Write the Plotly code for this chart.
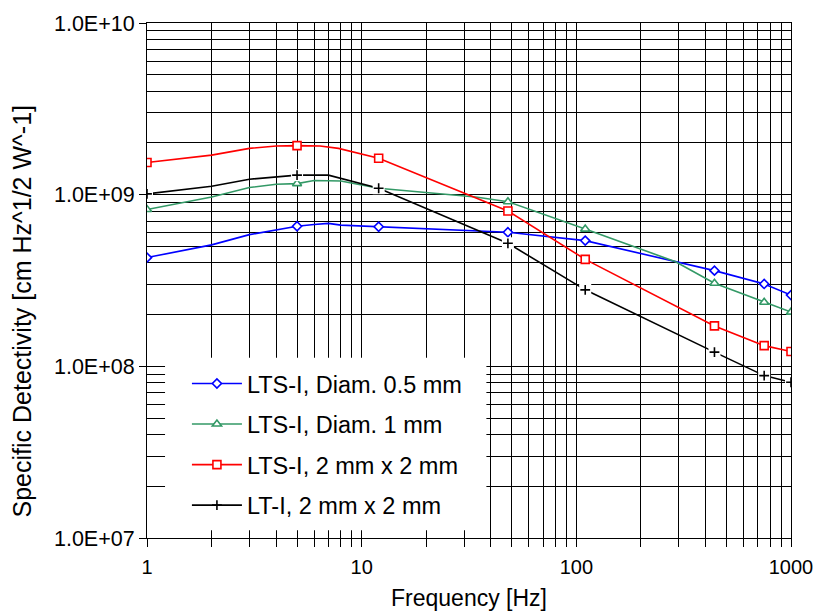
import plotly.graph_objects as go

# Specific detectivity D* vs. chopper frequency for four detectors
FREQ_LTS05 = [1, 2, 3, 5, 6, 7, 8, 12, 24, 48, 110, 440, 750, 1000]
D_LTS05 = [4.3e8, 5.1e8, 5.85e8, 6.55e8, 6.7e8, 6.8e8, 6.65e8, 6.5e8, 6.3e8,
           6.04e8, 5.4e8, 3.61e8, 3.02e8, 2.6e8]

FREQ_LTS1 = [1, 2, 3, 4, 5, 6, 8, 12, 34, 48, 110, 290, 440, 750, 1000]
D_LTS1 = [8.2e8, 9.7e8, 1.1e9, 1.15e9, 1.16e9, 1.21e9, 1.2e9, 1.09e9, 9.7e8,
          9.1e8, 6.3e8, 4.07e8, 3.05e8, 2.36e8, 2.07e8]

FREQ_LTS2 = [1, 2, 3, 4, 5, 6.4, 7.8, 12, 48, 110, 440, 750, 1000]
D_LTS2 = [1.54e9, 1.70e9, 1.86e9, 1.92e9, 1.93e9, 1.92e9, 1.86e9, 1.63e9,
          8.04e8, 4.2e8, 1.72e8, 1.32e8, 1.22e8]

FREQ_LT2 = [1, 2, 3, 4, 5, 7, 12, 48, 110, 440, 750, 1000]
D_LT2 = [1.01e9, 1.12e9, 1.23e9, 1.27e9, 1.30e9, 1.30e9, 1.09e9, 5.21e8,
         2.79e8, 1.21e8, 8.83e7, 8.08e7]

# frequencies at which a symbol is shown on each curve
MARKED_FREQ = [1, 5, 12, 48, 110, 440, 750, 1000]

NAMES = ["LTS-I, Diam. 0.5 mm", "LTS-I, Diam. 1 mm",
         "LTS-I, 2 mm x 2 mm", "LT-I, 2 mm x 2 mm"]
COLORS = ["#0000FF", "#339966", "#FF0000", "#000000"]
SYMBOLS = ["diamond", "triangle-up", "square", "cross-thin"]
SIZES = [7, 8, 8, 7]

Y_TICKS = [1e7, 1e8, 1e9, 1e10]
Y_TICKTEXT = ["1.0E+07", "1.0E+08", "1.0E+09", "1.0E+10"]
X_TICKS = [1, 10, 100, 1000]
X_TICKTEXT = ["1", "10", "100", "1000"]
Y_TITLE = "Specific Detectivity [cm Hz^1/2 W^-1]"
X_TITLE = "Frequency [Hz]"

CLEAR = "rgba(0,0,0,0)"
FONT = "Liberation Sans, Arial, sans-serif"

series = [(FREQ_LTS05, D_LTS05), (FREQ_LTS1, D_LTS1),
          (FREQ_LTS2, D_LTS2), (FREQ_LT2, D_LT2)]

fig = go.Figure()

for i, (f, d) in enumerate(series):
    shown = [x in MARKED_FREQ for x in f]
    col = COLORS[i]
    is_cross = SYMBOLS[i] == "cross-thin"
    fill = [("white" if not is_cross else col) if s else CLEAR for s in shown]
    edge = [col if s else CLEAR for s in shown]
    fig.add_trace(go.Scatter(
        x=f, y=d, name=NAMES[i], mode="lines+markers",
        legendgroup=NAMES[i],
        line=dict(color=col, width=1.6),
        marker=dict(symbol=SYMBOLS[i], size=SIZES[i], color=fill,
                    line=dict(color=edge, width=1.6)),
    ))

# the "+" symbols of the last curve sit on a small white patch
f_lt, d_lt = FREQ_LT2, D_LT2
mk_f = [x for x in f_lt if x in MARKED_FREQ]
mk_d = [y for x, y in zip(f_lt, d_lt) if x in MARKED_FREQ]
fig.add_trace(go.Scatter(
    x=mk_f, y=mk_d, mode="markers", showlegend=False, hoverinfo="skip",
    marker=dict(symbol="square", size=12, color="white", line=dict(width=0)),
))
fig.add_trace(go.Scatter(
    x=mk_f, y=mk_d, mode="markers", showlegend=False, hoverinfo="skip",
    marker=dict(symbol="cross-thin", size=SIZES[3],
                line=dict(color=COLORS[3], width=1.6)),
))

x_minor = [m * 10 ** p for p in range(3) for m in range(2, 10)]
y_minor = [m * 10 ** p for p in range(7, 10) for m in range(2, 10)]

fig.update_xaxes(
    type="log", range=[0, 3], automargin=False,
    tickvals=X_TICKS, ticktext=X_TICKTEXT,
    ticks="outside", ticklen=8, tickcolor="black", tickwidth=1,
    ticklabelstandoff=3,
    tickfont=dict(size=20, color="black", family=FONT),
    showline=True, linecolor="black", linewidth=1, mirror=True,
    showgrid=True, gridcolor="black", gridwidth=1,
    minor=dict(tickvals=x_minor, showgrid=True, gridcolor="black",
               gridwidth=1, ticks="outside", ticklen=8, tickcolor="black"),
    title=dict(text=X_TITLE, font=dict(size=23, color="black",
               family=FONT), standoff=12),
    zeroline=False,
)
fig.update_yaxes(
    type="log", range=[7, 10], automargin=False,
    tickvals=Y_TICKS, ticktext=Y_TICKTEXT,
    ticks="outside", ticklen=7, tickcolor="black", tickwidth=1,
    tickfont=dict(size=21.5, color="black", family=FONT),
    showline=True, linecolor="black", linewidth=1, mirror=True,
    showgrid=True, gridcolor="black", gridwidth=1,
    minor=dict(tickvals=y_minor, showgrid=True, gridcolor="black",
               gridwidth=1),
    zeroline=False,
)

# vertical axis title, placed as a rotated annotation
fig.add_annotation(text=Y_TITLE, xref="paper", yref="paper",
                   x=-0.194, y=0.44, xanchor="center", yanchor="middle",
                   textangle=-90, showarrow=False,
                   font=dict(size=25, color="black", family=FONT))

# white panel behind the legend entries
fig.add_shape(type="rect", xref="paper", yref="paper",
              x0=0.028, x1=0.527, y0=0.015, y1=0.35,
              fillcolor="white", line=dict(width=0), layer="above")

fig.update_layout(
    width=816, height=612,
    margin=dict(l=147, r=25, t=23, b=74),
    paper_bgcolor="white", plot_bgcolor="white",
    font=dict(family=FONT, color="black"),
    legend=dict(x=0.062, y=0.02, xanchor="left", yanchor="bottom",
                bgcolor="rgba(255,255,255,0)", borderwidth=0,
                traceorder="grouped", tracegroupgap=7, itemwidth=50,
                font=dict(size=23.5, color="black", family=FONT)),
)

fig.write_html("out.html")
